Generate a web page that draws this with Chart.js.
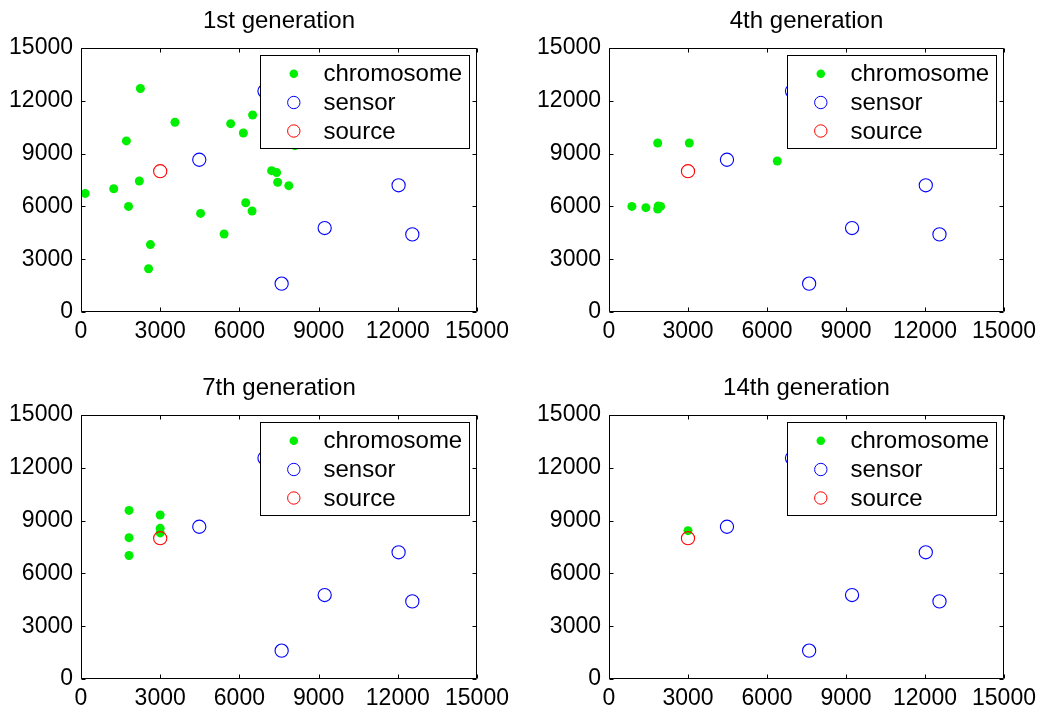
<!DOCTYPE html>
<html><head><meta charset="utf-8">
<script src="https://cdn.jsdelivr.net/npm/chart.js@4.4.1/dist/chart.umd.min.js"></script>
<style>html,body{margin:0;padding:0;background:#fff;width:1044px;height:713px;overflow:hidden;position:relative}canvas{position:absolute}</style>
</head><body>
<canvas id="c0"></canvas><canvas id="c1"></canvas><canvas id="c2"></canvas><canvas id="c3"></canvas>
<script>
// ---- data ----
const tickValues = [0, 3000, 6000, 9000, 12000, 15000];
const titles = ['1st generation', '4th generation', '7th generation', '14th generation'];
const seriesNames = ['chromosome', 'sensor', 'source'];

const sensorX = [4480, 6950, 9230, 7600, 12030, 12550];
const sensorY = [8650, 12550, 4770, 1610, 7200, 4410];
const sourceX = [3000];
const sourceY = [8000];

const gen1ChromX = [2250, 3560, 1720, 160, 1240, 2210, 1800, 2630, 2560, 4530, 5420, 5670, 6500, 6150, 6240, 6480, 7220, 7410, 7450, 7870, 8100];
const gen1ChromY = [12700, 10780, 9720, 6740, 7000, 7440, 6000, 3830, 2460, 5600, 4430, 10700, 11190, 10170, 6210, 5740, 8030, 7920, 7370, 7180, 9450];

const gen4ChromX = [1850, 3050, 6390, 870, 1400, 1850, 1870, 1960];
const gen4ChromY = [9600, 9600, 8580, 6000, 5930, 5850, 6020, 6000];

const gen7ChromX = [1820, 1820, 1820, 3000, 3000, 3000];
const gen7ChromY = [9580, 8030, 7020, 9320, 8560, 8300];

const gen14ChromX = [3000];
const gen14ChromY = [8430];

const chromX = [gen1ChromX, gen4ChromX, gen7ChromX, gen14ChromX];
const chromY = [gen1ChromY, gen4ChromY, gen7ChromY, gen14ChromY];

// ---- style / layout ----
const FONT = "'Liberation Sans', Arial, Helvetica, sans-serif";
const GREEN = '#00ee00', BLUE = '#0000ff', RED = '#ff0000';
const plotRects = [[81, 48, 477, 312], [609, 48, 1004, 312], [81, 415, 477, 679], [609, 415, 1004, 679]];
const PADL = 81, PADT = 48, PADR = 40, PADB = 34;

Chart.defaults.font.family = FONT;
Chart.defaults.color = '#000';

function pts(xs, ys) { return xs.map((x, i) => ({ x: x, y: ys[i] })); }

const boxPlugin = {
  id: 'box',
  afterDraw(chart) {
    const { ctx, chartArea: a, scales } = chart;
    const L = Math.round(a.left) + 0.5, R = Math.round(a.right) - 0.5;
    const T = Math.round(a.top) + 0.5, B = Math.round(a.bottom) - 0.5;
    ctx.save();
    ctx.strokeStyle = '#000';
    ctx.lineWidth = 1;
    ctx.beginPath();
    ctx.rect(L, T, R - L, B - T);
    const tl = 4;
    scales.x.ticks.forEach(t => {
      const p = Math.round(scales.x.getPixelForValue(t.value)) + 0.5;
      ctx.moveTo(p, B); ctx.lineTo(p, B - tl);
      ctx.moveTo(p, T); ctx.lineTo(p, T + tl);
    });
    scales.y.ticks.forEach(t => {
      const p = Math.round(scales.y.getPixelForValue(t.value)) + 0.5;
      ctx.moveTo(L, p); ctx.lineTo(L + tl, p);
      ctx.moveTo(R, p); ctx.lineTo(R - tl, p);
    });
    ctx.stroke();
    ctx.restore();
  }
};

const legendPlugin = {
  id: 'boxLegend',
  afterDatasetsDraw(chart) {
    const { ctx, chartArea: a } = chart;
    const w = 209, h = 93;
    const x0 = Math.round(a.right - 8 - w) + 0.5, y0 = Math.round(a.top + 7) + 0.5;
    ctx.save();
    ctx.fillStyle = '#fff';
    ctx.fillRect(x0, y0, w, h);
    ctx.strokeStyle = '#000';
    ctx.lineWidth = 1;
    ctx.strokeRect(x0, y0, w, h);
    const rows = [18.3, 47, 75.5];
    chart.data.datasets.forEach((ds, i) => {
      const cy = y0 + rows[i], cx = x0 + 33.3;
      ctx.beginPath();
      if (i === 0) {
        ctx.fillStyle = ds.backgroundColor;
        ctx.arc(cx, cy, 4.3, 0, Math.PI * 2);
        ctx.fill();
      } else {
        ctx.strokeStyle = ds.borderColor;
        ctx.lineWidth = 1;
        ctx.arc(cx, cy, 6.2, 0, Math.PI * 2);
        ctx.stroke();
      }
      ctx.fillStyle = '#000';
      ctx.font = '24px ' + FONT;
      ctx.textBaseline = 'middle';
      ctx.textAlign = 'left';
      ctx.fillText(ds.label, x0 + 63, cy + 1);
    });
    ctx.restore();
  }
};

plotRects.forEach((r, k) => {
  const cv = document.getElementById('c' + k);
  const W = (r[2] - r[0]) + PADL + PADR, H = (r[3] - r[1]) + PADT + PADB;
  cv.width = W; cv.height = H;
  cv.style.width = W + 'px'; cv.style.height = H + 'px';
  cv.style.left = (r[0] - PADL) + 'px'; cv.style.top = (r[1] - PADT) + 'px';
  new Chart(cv, {
    type: 'scatter',
    data: {
      datasets: [
        { label: seriesNames[0], data: pts(chromX[k], chromY[k]), backgroundColor: GREEN, borderColor: GREEN,
          pointRadius: 4.5, pointBorderWidth: 0, pointStyle: 'circle', order: 3 },
        { label: seriesNames[1], data: pts(sensorX, sensorY), backgroundColor: 'rgba(0,0,0,0)', borderColor: BLUE,
          pointRadius: 6.6, pointBorderWidth: 1.1, pointStyle: 'circle', order: 2 },
        { label: seriesNames[2], data: pts(sourceX, sourceY), backgroundColor: 'rgba(0,0,0,0)', borderColor: RED,
          pointRadius: 6.6, pointBorderWidth: 1.1, pointStyle: 'circle', order: 1 }
      ]
    },
    options: {
      responsive: false,
      animation: false,
      devicePixelRatio: 1,
      layout: { padding: { left: 0, right: PADR, top: 0, bottom: 0 } },
      plugins: {
        legend: { display: false },
        tooltip: { enabled: false },
        title: { display: true, text: titles[k], fullSize: false, color: '#000',
                 font: { size: 24, weight: 'normal', family: FONT, lineHeight: 1.2 },
                 padding: { top: 7, bottom: 12.2 } }
      },
      scales: {
        x: {
          type: 'linear', min: 0, max: 15000,
          afterBuildTicks(s) { s.ticks = tickValues.map(v => ({ value: v })); },
          ticks: { font: { size: 23 }, padding: 6, maxRotation: 0, autoSkip: false,
                   callback: v => String(v) },
          grid: { display: false, drawTicks: false },
          border: { display: false },
          afterFit(s) { s.height = PADB; }
        },
        y: {
          type: 'linear', min: 0, max: 15000,
          afterBuildTicks(s) { s.ticks = tickValues.map(v => ({ value: v })); },
          ticks: { font: { size: 23 }, padding: 8, autoSkip: false, callback: v => String(v) },
          grid: { display: false, drawTicks: false },
          border: { display: false },
          afterFit(s) { s.width = PADL; }
        }
      }
    },
    plugins: [boxPlugin, legendPlugin]
  });
});
</script>
</body></html>
